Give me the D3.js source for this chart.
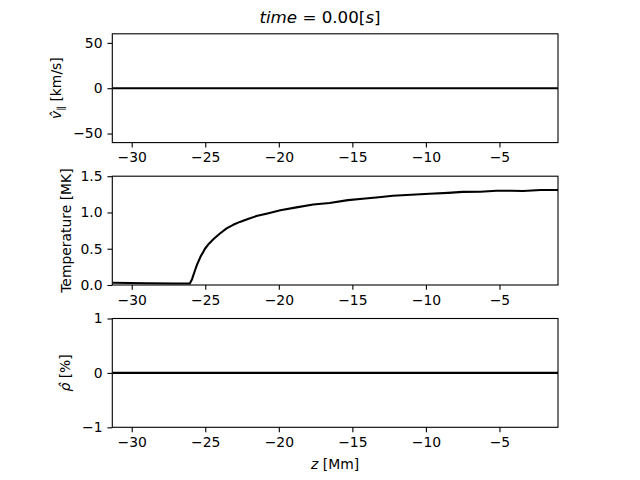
<!DOCTYPE html>
<html>
<head>
<meta charset="utf-8">
<script src="https://cdn.jsdelivr.net/npm/d3@7"></script>
<style>
  body { margin: 0; background: #fff; }
  text { font-family: "DejaVu Sans", sans-serif; }
</style>
</head>
<body>
<div id="chart"></div>
<script>
// Data
const zTemp = [-31.3, -29, -27, -26.05, -25.9, -25.7, -25.56, -25.3, -25.15, -25.02, -24.75,
  -24.45, -24.2, -24.0, -23.55, -23.1, -22.65, -22.1, -21.52, -20.7, -19.9, -18.8, -17.66,
  -16.55, -15.3, -14.3, -13.2, -12.25, -11, -9.76, -8.5, -7.5, -6.3, -5.2, -4.2, -3.4, -2.2, -1.0];
const tempMK = [0.03, 0.025, 0.02, 0.02, 0.08, 0.20, 0.28, 0.40, 0.45, 0.50, 0.57,
  0.63, 0.675, 0.71, 0.78, 0.83, 0.87, 0.91, 0.95, 0.99, 1.03, 1.07, 1.11,
  1.13, 1.17, 1.19, 1.21, 1.23, 1.245, 1.257, 1.27, 1.284, 1.285, 1.30, 1.30, 1.295, 1.31, 1.31];
const zFlat = [-31.3, -1.0];
const velHat = [0, 0];
const rhoHat = [0, 0];

const xTicks = [-30, -25, -20, -15, -10, -5];
const velTicks = [-50, 0, 50];
const tempTicks = [0, 0.5, 1.0, 1.5];
const rhoTicks = [-1, 0, 1];

const svgWidth = 640;
const svgHeight = 480;
const left = 112.3, right = 558;
const panelH = 108.8;
const tops = [33.8, 176.2, 318.5];
const fs = 13.9;
const tickLen = 4.86;

const svg = d3.select("#chart")
  .append("svg")
  .attr("width", svgWidth)
  .attr("height", svgHeight);

const x = d3.scaleLinear().domain([-31.32, -1.02]).range([left, right]);

const panels = [
  { xs: zFlat, ys: velHat, domain: [-60, 60], ticks: velTicks, fmt: d3.format("d"), labelX: 56 },
  { xs: zTemp, ys: tempMK, domain: [0, 1.5], ticks: tempTicks, fmt: d3.format(".1f"), labelX: 66 },
  { xs: zFlat, ys: rhoHat, domain: [-1, 1], ticks: rhoTicks, fmt: d3.format("d"), labelX: 65.5 }
];

panels.forEach((p, i) => {
  const top = tops[i];
  const y = d3.scaleLinear().domain(p.domain).range([top + panelH, top]);

  // data line
  const clipId = "clip" + i;
  svg.append("clipPath").attr("id", clipId)
    .append("rect")
    .attr("x", left).attr("y", top)
    .attr("width", right - left).attr("height", panelH);

  svg.append("path")
    .datum(p.xs.map((d, j) => [d, p.ys[j]]))
    .attr("clip-path", `url(#${clipId})`)
    .attr("fill", "none")
    .attr("stroke", "black")
    .attr("stroke-width", 2.1)
    .attr("stroke-linejoin", "round")
    .attr("d", d3.line().x(d => x(d[0])).y(d => y(d[1])));

  // axes
  const xAxis = d3.axisBottom(x).tickValues(xTicks)
    .tickFormat(d => d3.format("d")(d).replace("-", "\u2212"))
    .tickSize(tickLen).tickSizeOuter(0).tickPadding(4.9);
  const yAxis = d3.axisLeft(y).tickValues(p.ticks)
    .tickFormat(d => p.fmt(d).replace("-", "\u2212"))
    .tickSize(tickLen).tickSizeOuter(0).tickPadding(4.9);

  const gx = svg.append("g")
    .attr("transform", `translate(0, ${top + panelH})`)
    .call(xAxis);
  const gy = svg.append("g")
    .attr("transform", `translate(${left}, 0)`)
    .call(yAxis);

  [gx, gy].forEach(g => {
    g.select(".domain").remove();
    g.selectAll("line").attr("stroke", "black").attr("stroke-width", 1.1);
    g.selectAll("text").attr("fill", "black")
      .style("font-family", "DejaVu Sans").style("font-size", fs + "px");
  });

  // frame
  svg.append("rect")
    .attr("x", left).attr("y", top)
    .attr("width", right - left).attr("height", panelH)
    .attr("fill", "none").attr("stroke", "black").attr("stroke-width", 1.1);

  p.cy = top + panelH / 2;
});

// y labels
function yLabel(cx, cy) {
  return svg.append("text")
    .attr("transform", `translate(${cx}, ${cy}) rotate(-90)`)
    .attr("text-anchor", "middle")
    .attr("dy", "0.35em")
    .style("font-size", fs + "px")
    .attr("fill", "black");
}

const l0 = yLabel(panels[0].labelX, panels[0].cy);
l0.append("tspan").style("font-style", "italic").text("v\u0302");
l0.append("tspan").attr("dy", 3).style("font-size", "9.7px").text("\u2225");
l0.append("tspan").attr("dy", -3).text(" [km/s]");

yLabel(panels[1].labelX, panels[1].cy).text("Temperature [MK]");

const l2 = yLabel(panels[2].labelX, panels[2].cy);
l2.append("tspan").style("font-style", "italic").text("\u03c1\u0302");
l2.append("tspan").text(" [%]");

// x label
const xl = svg.append("text")
  .attr("x", (left + right) / 2)
  .attr("y", 469)
  .attr("text-anchor", "middle")
  .style("font-size", fs + "px")
  .attr("fill", "black");
xl.append("tspan").style("font-style", "italic").text("z");
xl.append("tspan").text(" [Mm]");

// title
const t = svg.append("text")
  .attr("x", 320)
  .attr("y", 23.3)
  .attr("text-anchor", "middle")
  .style("font-size", "16.7px")
  .attr("fill", "black");
t.append("tspan").style("font-style", "italic").text("time");
t.append("tspan").text(" = 0.00[");
t.append("tspan").style("font-style", "italic").text("s");
t.append("tspan").text("]");
</script>
</body>
</html>
